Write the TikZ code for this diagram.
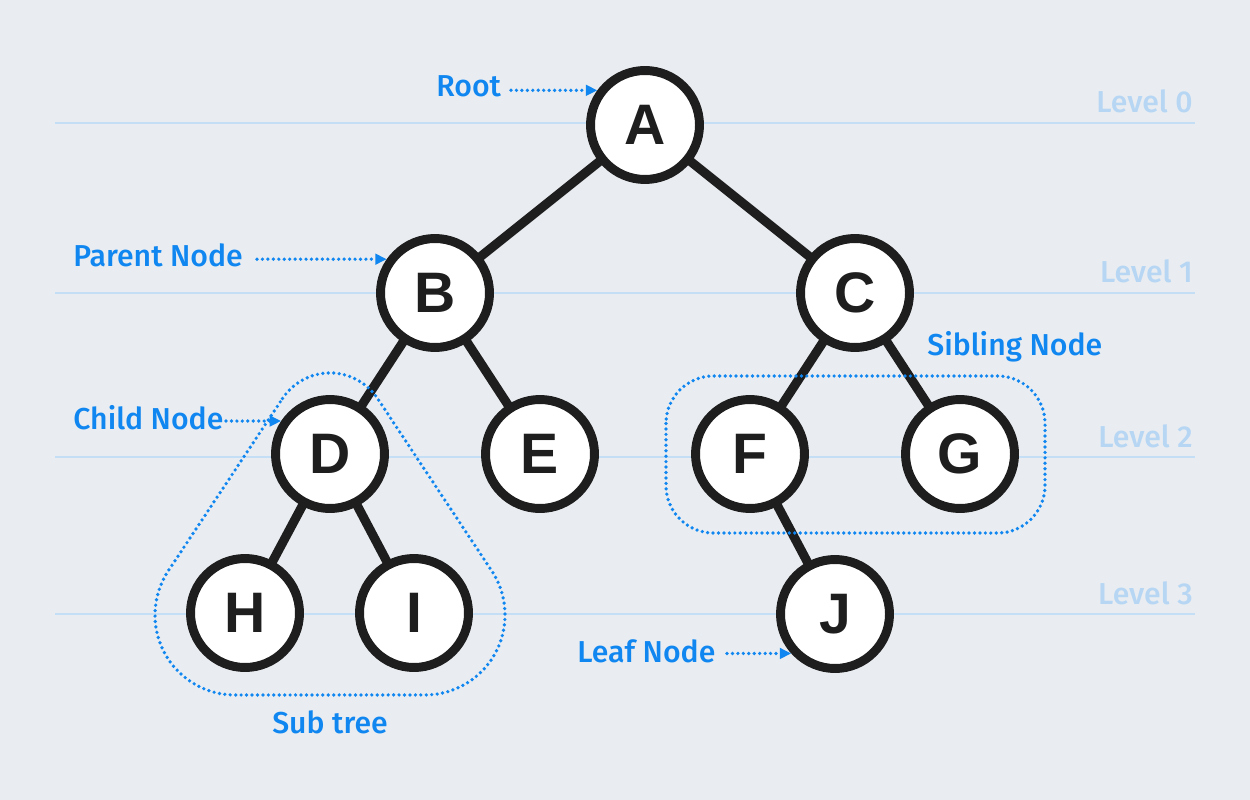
\documentclass[tikz,border=0pt]{standalone}
\usepackage{fontspec}
\setmainfont{Noto Sans}
\newfontfamily\lblfont{Fira Sans Medium}
\newfontfamily\nodefont{Liberation Sans}
\usetikzlibrary{arrows.meta,backgrounds}
\definecolor{bgc}{RGB}{233,237,241}
\definecolor{nodeline}{RGB}{30,30,30}
\definecolor{lblue}{RGB}{16,134,240}
\definecolor{lvltext}{RGB}{182,214,244}
\definecolor{lvlline}{RGB}{196,222,245}
\tikzset{
  tnode/.style={circle, draw=nodeline, fill=white, line width=5.1pt, minimum size=2.18cm,
    inner sep=0pt, text=nodeline, font=\nodefont\bfseries\fontsize{32.5}{32.5}\selectfont},
  treeedge/.style={draw=nodeline, line width=5.2pt},
  lbl/.style={text=lblue, font=\lblfont\fontsize{17.2}{17.2}\selectfont, inner sep=0pt},
  lvl/.style={text=lvltext, font=\lblfont\fontsize{17.2}{17.2}\selectfont, inner sep=0pt, anchor=base east},
  lvlrule/.style={draw=lvlline, line width=0.9pt},
  dotline/.style={draw=lblue, line width=2.1pt, line cap=round, dash pattern=on 0pt off 3.1pt},
  pointer/.style={dotline, -{Triangle[length=6.5pt,width=6pt]}}
}
\begin{document}
\begin{tikzpicture}[x=0.02cm,y=-0.02cm]
\useasboundingbox (0,0) rectangle (1250,800);
% tree nodes
\node[tnode] (A) at (645,125) {A};
\node[tnode] (B) at (435,293) {B};
\node[tnode] (C) at (855,293) {C};
\node[tnode] (D) at (330,454) {D};
\node[tnode] (E) at (540,454) {E};
\node[tnode] (F) at (750,454) {F};
\node[tnode] (G) at (960,454) {G};
\node[tnode] (H) at (245,613) {H};
\node[tnode] (I) at (414,613) {I};
\node[tnode] (J) at (835,614) {J};
% level rules
\coordinate (L0a) at (55,123);  \coordinate (L0b) at (1195,123);
\coordinate (L1a) at (55,293);  \coordinate (L1b) at (1195,293);
\coordinate (L2a) at (55,457);  \coordinate (L2b) at (1195,457);
\coordinate (L3a) at (55,614);  \coordinate (L3b) at (1195,614);
\begin{pgfonlayer}{background}
  \fill[bgc] (0,0) rectangle (1250,800);
  \draw[lvlrule] (L0a) -- (L0b);
  \draw[lvlrule] (L1a) -- (L1b);
  \draw[lvlrule] (L2a) -- (L2b);
  \draw[lvlrule] (L3a) -- (L3b);
  \draw[treeedge] (A.center) -- (B.center);
  \draw[treeedge] (A.center) -- (C.center);
  \draw[treeedge] (B.center) -- (D.center);
  \draw[treeedge] (B.center) -- (E.center);
  \draw[treeedge] (C.center) -- (F.center);
  \draw[treeedge] (C.center) -- (G.center);
  \draw[treeedge] (D.center) -- (H.center);
  \draw[treeedge] (D.center) -- (I.center);
  \draw[treeedge] (F.center) -- (J.center);
\end{pgfonlayer}
% level labels
\node[lvl] (lv0) at (1193,113) {Level 0};
\node[lvl] (lv1) at (1193,283) {Level 1};
\node[lvl] (lv2) at (1193,447) {Level 2};
\node[lvl] (lv3) at (1193,604) {Level 3};
% annotation labels
\node[lbl, anchor=base west] (root) at (436,97) {Root};
\node[lbl, anchor=base west] (parent) at (73,267) {Parent Node};
\node[lbl, anchor=base west] (child) at (73,429) {Child Node};
\node[lbl, anchor=base west] (sibling) at (927,356) {Sibling Node};
\node[lbl, anchor=base west] (leaf) at (577,662) {Leaf Node};
\node[lbl, anchor=base] (subtree) at (330,733) {Sub tree};
% pointer arrows
\coordinate (rootS) at (511,90);
\coordinate (parentS) at (257,259);
\coordinate (childS) at (226,422);
\coordinate (leafS) at (727,654);
\draw[pointer] (rootS |- A.144) -- (A.144);
\draw[pointer] (parentS |- B.145) -- (B.145);
\draw[pointer] (childS |- D.146) -- (D.146);
\draw[pointer] (leafS |- J.222) -- (J.222);
% sub tree outline
\draw[dotline] (282.5,398.5) arc[start angle=213.5, end angle=326.5, radius=57]
  -- (491.7,570.8) arc[start angle=-33.5, end angle=90, radius=80]
  -- (235,695) arc[start angle=90, end angle=213.5, radius=80] -- cycle;
% sibling outline
\draw[dotline, rounded corners=0.95cm] (666,376) rectangle (1045,533);
\end{tikzpicture}
\end{document}
